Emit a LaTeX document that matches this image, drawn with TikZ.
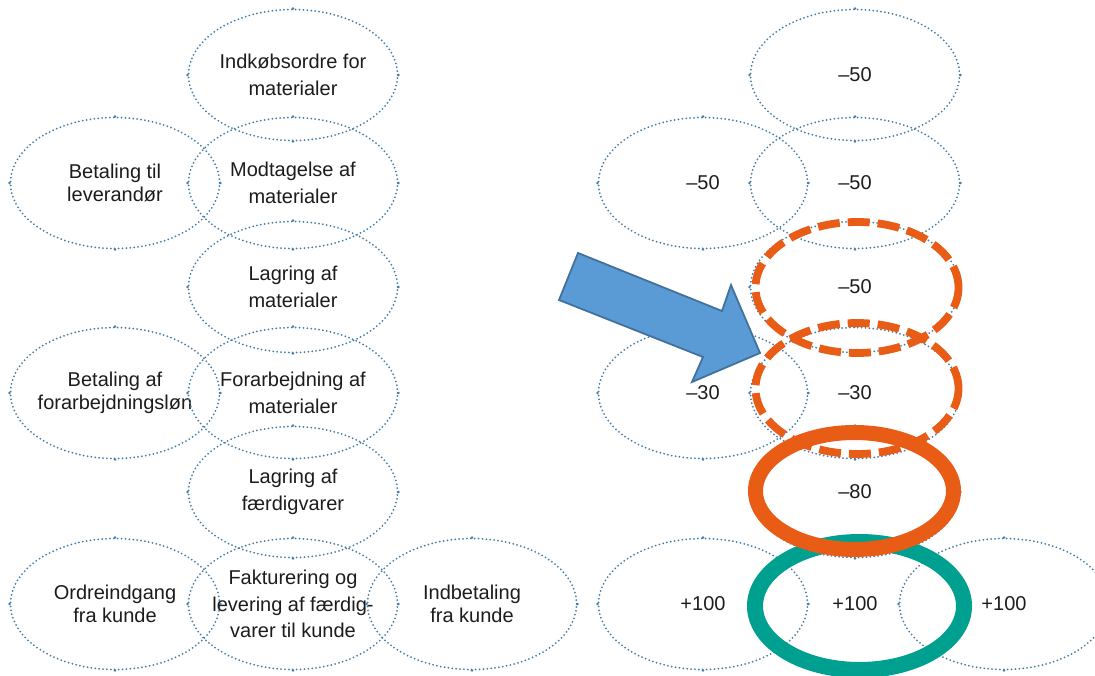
\documentclass[tikz,border=0pt]{standalone}
\usepackage{fontspec}
\setmainfont{Liberation Sans}
\usetikzlibrary{shapes.geometric}

\definecolor{dotblue}{RGB}{70,124,166}
\definecolor{hlorange}{RGB}{232,92,22}
\definecolor{hlteal}{RGB}{0,160,145}
\definecolor{arrowfill}{RGB}{91,155,213}
\definecolor{arrowedge}{RGB}{65,113,156}
\definecolor{inktext}{RGB}{28,28,28}

\tikzset{
  bubble/.style={ellipse, draw=dotblue, line width=2pt, line cap=round,
    dash pattern=on 0pt off 3.9pt,
    minimum width=209pt, minimum height=131pt, inner sep=0pt},
  lbl/.style={align=center, text=inktext, inner sep=0pt,
    font=\fontsize{20}{22.7}\selectfont},
  lbltall/.style={lbl, font=\fontsize{20}{26.7}\selectfont},
  ring/.style={ellipse, inner sep=0pt},
  dashring/.style={ring, draw=hlorange, line width=7.8pt,
    dash pattern=on 22pt off 8pt,
    minimum width=203pt, minimum height=131pt},
  solidring/.style={ring, draw=hlorange, line width=15pt,
    minimum width=198pt, minimum height=117pt},
  tealring/.style={ring, draw=hlteal, line width=16pt,
    minimum width=209pt, minimum height=128pt},
  blockarrow/.style={draw=arrowedge, fill=arrowfill, line width=1.8pt,
    line join=miter},
}

\begin{document}
\begin{tikzpicture}[x=1pt, y=-1pt]
\useasboundingbox (0,0) rectangle (1095,676);

% ---- process steps (left half) ----
\node[bubble] (p1) at (293,75) {};
\node[lbltall] (p1t) at (p1) {Indkøbsordre for\\materialer};

\node[bubble] (p2a) at (115,183) {};
\node[lbl] (p2at) at (p2a) {Betaling til\\leverandør};
\node[bubble] (p2) at (293,183) {};
\node[lbltall] (p2t) at (p2) {Modtagelse af\\materialer};

\node[bubble] (p3) at (293,287) {};
\node[lbltall] (p3t) at (p3) {Lagring af\\materialer};

\node[bubble] (p4a) at (115,393) {};
\node[lbl] (p4at) at (p4a) {Betaling af\\forarbejdningsløn};
\node[bubble] (p4) at (293,393) {};
\node[lbltall] (p4t) at (p4) {Forarbejdning af\\materialer};

\node[bubble] (p5) at (293,492) {};
\node[lbltall] (p5t) at (p5) {Lagring af\\færdigvarer};

\node[bubble] (p6a) at (115,604) {};
\node[lbl] (p6at) at (p6a) {Ordreindgang\\fra kunde};
\node[bubble] (p6) at (293,604) {};
\node[lbltall] (p6t) at (p6) {Fakturering og\\levering af færdig-\\varer til kunde};
\node[bubble] (p6b) at (472,604) {};
\node[lbl] (p6bt) at (p6b) {Indbetaling\\fra kunde};

% ---- cash amounts (right half) ----
\node[bubble] (v1) at (855,75) {};
\node[lbl] (v1t) at (v1) {–50};

\node[bubble] (v2a) at (703,183) {};
\node[lbl] (v2at) at (v2a) {–50};
\node[bubble] (v2) at (855,183) {};
\node[lbl] (v2t) at (v2) {–50};

\node[bubble] (v3) at (855,287) {};
\node[lbl] (v3t) at (v3) {–50};

\node[bubble] (v4a) at (703,393) {};
\node[lbl] (v4at) at (v4a) {–30};
\node[bubble] (v4) at (855,393) {};
\node[lbl] (v4t) at (v4) {–30};

\node[bubble] (v5) at (855,492) {};
\node[lbl] (v5t) at (v5) {–80};

\node[bubble] (v6a) at (703,604) {};
\node[lbl] (v6at) at (v6a) {+100};
\node[bubble] (v6) at (855,604) {};
\node[lbl] (v6t) at (v6) {+100};
\node[bubble] (v6b) at (1004,604) {};
\node[lbl] (v6bt) at (v6b) {+100};

% slightly heavier dots where each outline starts a quarter
\foreach \n in {p1,p2a,p2,p3,p4a,p4,p5,p6a,p6,p6b,v1,v2a,v2,v3,v4a,v4,v5,v6a,v6,v6b}
  \foreach \a in {north,south,east,west}
    \fill[dotblue] (\n.\a) circle (1.4pt);

% ---- highlight rings ----
\node[tealring] (hlin) at (859.5,606) {};
\node[solidring] (hl80) at (854.5,491) {};
\node[dashring] (hl30) at (857,388.5) {};
\node[dashring] (hl50) at (857,287.5) {};

% ---- block arrow ----
\draw[blockarrow] (578,253) -- (722,311) -- (731,285) -- (760,353)
  -- (692,382) -- (703,357) -- (559,300) -- cycle;

\end{tikzpicture}
\end{document}
